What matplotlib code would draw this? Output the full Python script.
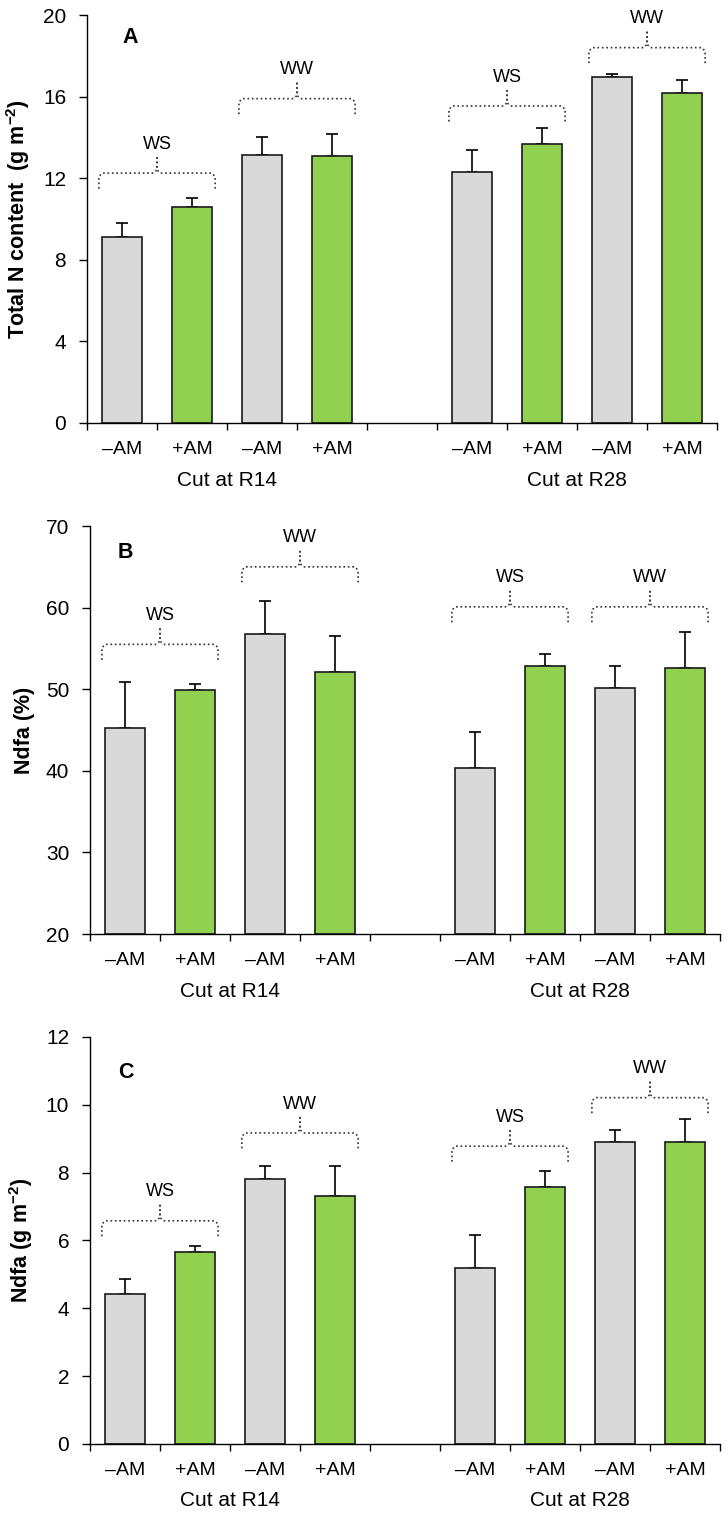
import numpy as np
import matplotlib
matplotlib.use('Agg')
import matplotlib.pyplot as plt
from matplotlib import rcParams

rcParams['font.family'] = ['Liberation Sans', 'DejaVu Sans']
rcParams['mathtext.fontset'] = 'custom'
rcParams['mathtext.rm'] = 'Liberation Sans'
rcParams['mathtext.bf'] = 'Liberation Sans:bold'

# bar order: R14 (WS -AM, WS +AM, WW -AM, WW +AM), R28 (same)
amlabels = ['\u2013AM', '+AM', '\u2013AM', '+AM']
cutlabels = ['Cut at R14', 'Cut at R28']
waterlabels = ['WS', 'WW', 'WS', 'WW']

totN_mean = [9.12, 10.6, 13.14, 13.09, 12.3, 13.7, 16.96, 16.2]
totN_se = [0.68, 0.43, 0.86, 1.08, 1.1, 0.75, 0.14, 0.6]
ndfa_pct_mean = [45.3, 49.9, 56.8, 52.1, 40.4, 52.8, 50.2, 52.6]
ndfa_pct_se = [5.6, 0.7, 4.0, 4.4, 4.3, 1.5, 2.6, 4.4]
ndfa_g_mean = [4.41, 5.67, 7.80, 7.30, 5.19, 7.58, 8.91, 8.91]
ndfa_g_se = [0.45, 0.17, 0.41, 0.91, 0.97, 0.46, 0.36, 0.66]

# height of the dotted bracket over each WS/WW pair
totN_brk = [12.25, 15.9, 15.54, 18.4]
ndfa_pct_brk = [55.5, 65.0, 60.1, 60.1]
ndfa_g_brk = [6.58, 9.17, 8.78, 10.21]

gray = '#d9d9d9'
green = '#92d050'

# slot positions: 4 bars, one empty slot, 4 bars
pos = np.array([0.5, 1.5, 2.5, 3.5, 5.5, 6.5, 7.5, 8.5])
colors = [gray, green] * 4

panels = [
    dict(mean=totN_mean, se=totN_se, brk=totN_brk, ylim=(0, 20), yticks=np.arange(0, 21, 4),
         ylabel=r'Total N content  (g m$^{\mathbf{-2}}$)', letter='A',
         rect=[0.1195, 0.7210, 0.8654, 0.2691], lpos=(0.068, 0.944), ylx=-0.088),
    dict(mean=ndfa_pct_mean, se=ndfa_pct_se, brk=ndfa_pct_brk, ylim=(20, 70), yticks=np.arange(20, 71, 10),
         ylabel='Ndfa (%)', letter='B',
         rect=[0.1236, 0.3839, 0.8654, 0.2691], lpos=(0.056, 0.934), ylx=-0.088),
    dict(mean=ndfa_g_mean, se=ndfa_g_se, brk=ndfa_g_brk, ylim=(0, 12), yticks=np.arange(0, 13, 2),
         ylabel=r'Ndfa (g m$^{\mathbf{-2}}$)', letter='C',
         rect=[0.1236, 0.0475, 0.8654, 0.2685], lpos=(0.057, 0.912), ylx=-0.088),
]

fig = plt.figure(figsize=(7.28, 15.16), dpi=100)

for p in panels:
    ax = fig.add_axes(p['rect'])
    mean = np.array(p['mean'])
    se = np.array(p['se'])
    lo, hi = p['ylim']
    ax.bar(pos, mean - lo, bottom=lo, width=0.57, color=colors, edgecolor='#1a1a1a', linewidth=1.2, zorder=2)
    ax.errorbar(pos, mean, yerr=[np.zeros_like(se), se], fmt='none', ecolor='black',
                elinewidth=1.2, capsize=4, capthick=1.2, zorder=1)

    # dotted curly brackets over each pair
    rng = hi - lo
    for k, yh in enumerate(p['brk']):
        x0 = pos[2 * k] - 0.33
        x1 = pos[2 * k + 1] + 0.33
        xc = 0.5 * (x0 + x1)
        ye = yh - 0.038 * rng
        yp = yh + 0.04 * rng
        c = 0.008 * rng
        cx = 0.05
        for s, xe in ((1, x0), (-1, x1)):
            xs = [xe, xe, xe + s * cx, xc - s * cx, xc, xc]
            ys = [ye, yh - c, yh, yh, yh + c, yp]
            ax.plot(xs, ys, linestyle=':', color='#333333', linewidth=1.2, zorder=3)
        ax.text(xc, yp + 0.01 * rng, waterlabels[k], ha='center', va='bottom', fontsize=13)

    ax.set_xlim(0, 9)
    ax.set_ylim(lo, hi)
    ax.set_yticks(p['yticks'])
    ax.set_xticks(np.arange(0, 10))
    ax.set_xticklabels([])
    ax.set_xticks(pos, minor=True)
    ax.set_xticklabels(amlabels * 2, minor=True, fontsize=14)
    ax.tick_params(axis='x', which='major', direction='out', length=5, width=1)
    ax.tick_params(axis='x', which='minor', length=0, pad=13)
    ax.tick_params(axis='y', direction='out', length=6, width=1, pad=9, labelsize=15)
    for sp in ['top', 'right']:
        ax.spines[sp].set_visible(False)
    for sp in ['left', 'bottom']:
        ax.spines[sp].set_linewidth(1.0)

    for xg, lab in zip([2.0, 7.0], cutlabels):
        ax.text(xg, -0.14, lab, transform=ax.get_xaxis_transform(), ha='center', va='center', fontsize=15)

    ax.set_ylabel(p['ylabel'], fontsize=15.5, fontweight='bold')
    ax.yaxis.set_label_coords(p['ylx'], 0.5)
    ax.text(p['lpos'][0], p['lpos'][1], p['letter'], transform=ax.transAxes, ha='center', va='center',
            fontsize=15.5, fontweight='bold')

plt.savefig('out.png', dpi=100)
